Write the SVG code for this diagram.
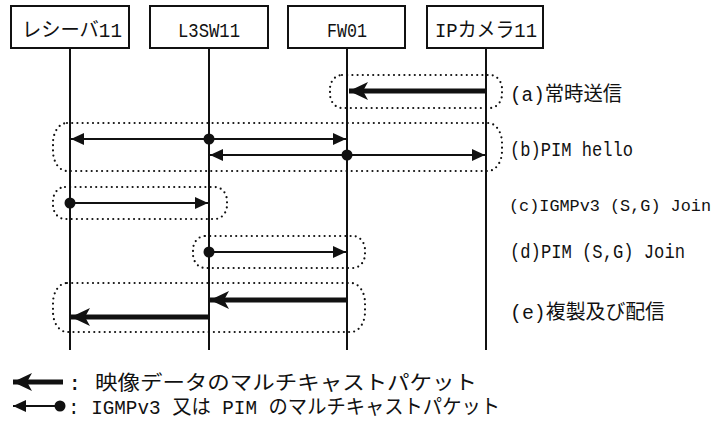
<svg xmlns="http://www.w3.org/2000/svg" width="722" height="421" viewBox="0 0 722 421">
<style>
text{font-family:"Liberation Mono","Noto Sans CJK JP",monospace;font-size:20px;fill:#111}
text.sm{font-size:17px}
.box{fill:#fff;stroke:#111;stroke-width:2}
.life{stroke:#111;stroke-width:2}
.dot{fill:none;stroke:#111;stroke-width:2.2;stroke-dasharray:0 5.2;stroke-linecap:round}
.thin{stroke:#111;stroke-width:2;fill:none}
.thick{stroke:#111;stroke-width:5;fill:none}
.pt{fill:#111}
</style>
<defs>
<marker id="ah" markerUnits="userSpaceOnUse" markerWidth="14" markerHeight="12" viewBox="0 0 14 12" refX="13" refY="6" orient="auto"><path d="M0,0 L13,6 L0,12 z" fill="#111"/></marker>
<marker id="ahT" markerUnits="userSpaceOnUse" markerWidth="20" markerHeight="20" viewBox="0 0 20 20" refX="19" refY="10" orient="auto"><path d="M0,1 L19,10 L0,19 L5,10 z" fill="#111"/></marker>
</defs>
<g id="node-receiver"><rect class="box" x="11" y="6" width="118" height="42"/><text x="22" y="37" textLength="100" lengthAdjust="spacingAndGlyphs">レシーバ11</text><line class="life" x1="70" y1="48" x2="70" y2="350"/></g>
<g id="node-l3sw"><rect class="box" x="150" y="6" width="118" height="42"/><text x="178" y="37" textLength="62" lengthAdjust="spacingAndGlyphs">L3SW11</text><line class="life" x1="209" y1="48" x2="209" y2="350"/></g>
<g id="node-fw"><rect class="box" x="288" y="6" width="117" height="42"/><text x="327" y="37" textLength="40" lengthAdjust="spacingAndGlyphs">FW01</text><line class="life" x1="347" y1="48" x2="347" y2="350"/></g>
<g id="node-camera"><rect class="box" x="427" y="6" width="116" height="42"/><text x="435" y="37" textLength="102" lengthAdjust="spacingAndGlyphs">IPカメラ11</text><line class="life" x1="486" y1="48" x2="486" y2="350"/></g>
<g id="groups">
<rect class="dot" x="330" y="75" width="172" height="33" rx="12" ry="14"/>
<rect class="dot" x="53" y="123" width="449" height="48" rx="14" ry="20"/>
<rect class="dot" x="53" y="187" width="174" height="32" rx="12" ry="14"/>
<rect class="dot" x="193" y="236" width="172" height="32" rx="12" ry="14"/>
<rect class="dot" x="53" y="283" width="312" height="49" rx="14" ry="20"/>
</g>
<g id="connectors">
<line class="thick" x1="486" y1="91" x2="349" y2="91" marker-end="url(#ahT)"/>
<line class="thin" x1="209" y1="139" x2="71" y2="139" marker-end="url(#ah)"/>
<line class="thin" x1="209" y1="139" x2="346" y2="139" marker-end="url(#ah)"/>
<circle class="pt" cx="209" cy="139" r="5.5"/>
<line class="thin" x1="347" y1="155" x2="210" y2="155" marker-end="url(#ah)"/>
<line class="thin" x1="347" y1="155" x2="485" y2="155" marker-end="url(#ah)"/>
<circle class="pt" cx="347" cy="155" r="5.5"/>
<line class="thin" x1="70" y1="203" x2="208" y2="203" marker-end="url(#ah)"/>
<circle class="pt" cx="70" cy="203" r="5.5"/>
<line class="thin" x1="209" y1="252" x2="346" y2="252" marker-end="url(#ah)"/>
<circle class="pt" cx="209" cy="252" r="5.5"/>
<line class="thick" x1="347" y1="300" x2="210" y2="300" marker-end="url(#ahT)"/>
<line class="thick" x1="209" y1="317" x2="71" y2="317" marker-end="url(#ahT)"/>
</g>
<g id="labels">
<text x="510" y="101" textLength="112" lengthAdjust="spacingAndGlyphs">(a)常時送信</text>
<text x="510" y="156" textLength="123" lengthAdjust="spacingAndGlyphs">(b)PIM hello</text>
<text class="sm" x="509" y="211" textLength="202" lengthAdjust="spacingAndGlyphs">(c)IGMPv3 (S,G) Join</text>
<text x="510" y="258" textLength="175" lengthAdjust="spacingAndGlyphs">(d)PIM (S,G) Join</text>
<text x="510" y="319" textLength="155" lengthAdjust="spacingAndGlyphs">(e)複製及び配信</text>
</g>
<g id="legend">
<line class="thick" x1="63" y1="382" x2="13" y2="382" marker-end="url(#ahT)"/>
<text x="68" y="390" textLength="409" lengthAdjust="spacingAndGlyphs">: 映像データのマルチキャストパケット</text>
<line class="thin" x1="60" y1="406" x2="13" y2="406" marker-end="url(#ah)"/>
<circle class="pt" cx="60" cy="406" r="5.5"/>
<text x="68" y="414" textLength="432" lengthAdjust="spacingAndGlyphs">: IGMPv3 又は PIM のマルチキャストパケット</text>
</g>
</svg>
